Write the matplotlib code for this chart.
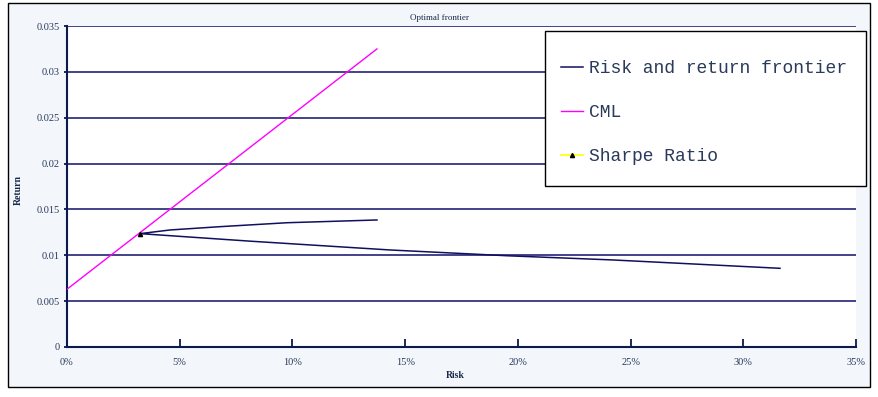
import matplotlib.pyplot as plt
from matplotlib.patches import Rectangle
from matplotlib.ticker import PercentFormatter, FuncFormatter

# Frontier (upper branch from the end back to the apex, then the lower branch)
frontier_risk = [0.1375, 0.0976, 0.0679, 0.0457, 0.0324, 0.0812, 0.1433, 0.1952, 0.2422, 0.3163]
frontier_ret = [0.01385, 0.01355, 0.01312, 0.01276, 0.01236, 0.01154, 0.01058, 0.00995, 0.00949, 0.00858]

# Capital market line
cml_risk = [0.0, 0.1375]
cml_ret = [0.0063, 0.0325]

# Tangency portfolio
sharpe_risk = [0.0324]
sharpe_ret = [0.01237]

navy = '#10106a'
text_col = '#2a3a5a'

fig = plt.figure(figsize=(8.79, 3.97), dpi=100)
bg = Rectangle((8 / 879, 10 / 397), 862 / 879, 384 / 397,
               transform=fig.transFigure, facecolor='#f3f6fb',
               edgecolor='black', linewidth=1, zorder=-10)
fig.patches.append(bg)

ax = fig.add_axes([67 / 879, 50 / 397, 789 / 879, 321 / 397])
ax.set_zorder(1)
ax.set_facecolor('white')

ax.plot(frontier_risk, frontier_ret, color='#10105e', linewidth=1.1,
        label='Risk and return frontier', zorder=3)
ax.plot(cml_risk, cml_ret, color='#ff00ff', linewidth=1.0, label='CML', zorder=3)
ax.plot(sharpe_risk, sharpe_ret, color='#ffff00', linewidth=1.2, marker='^',
        markersize=3, markerfacecolor='black', markeredgecolor='black',
        label='Sharpe Ratio', zorder=4)

ax.set_xlim(0, 0.35)
ax.set_ylim(0, 0.035)
ax.set_xticks([0, 0.05, 0.10, 0.15, 0.20, 0.25, 0.30, 0.35])
ax.set_yticks([0, 0.005, 0.01, 0.015, 0.02, 0.025, 0.03, 0.035])
ax.xaxis.set_major_formatter(PercentFormatter(1.0, decimals=0))
ax.yaxis.set_major_formatter(FuncFormatter(lambda v, p: '%g' % round(v, 4)))

ax.grid(axis='y', color=navy, linewidth=1.1)
ax.set_axisbelow(True)
for side in ['top', 'right']:
    ax.spines[side].set_visible(False)
for side in ['left', 'bottom']:
    ax.spines[side].set_color('#0a1a4a')
    ax.spines[side].set_linewidth(1.5)

ax.tick_params(axis='x', direction='in', length=6, width=1.3, color='#0a1a4a',
               labelsize=7.5, labelcolor=text_col, pad=8)
ax.tick_params(axis='y', direction='out', length=2, width=1.3, color='#0a1a4a',
               labelsize=7.5, labelcolor=text_col, pad=3)
for lbl in ax.get_xticklabels() + ax.get_yticklabels():
    lbl.set_family('Liberation Serif')

fig.text(18 / 879, 1 - 190 / 397, 'Return', rotation=90, ha='center', va='center',
         fontsize=7, fontweight='bold', family='Liberation Serif', color='#1a2a4a')
fig.text(455 / 879, 1 - 375 / 397, 'Risk', ha='center', va='center',
         fontsize=7, fontweight='bold', family='Liberation Serif', color='#1a2a4a')
fig.text(440 / 879, 1 - 18 / 397, 'Optimal frontier', ha='center', va='center',
         fontsize=6.5, family='Liberation Serif', color='#1a2a4a')

# legend frame drawn separately so the inner padding can be set freely
leg_box = Rectangle((545 / 879, 1 - 186 / 397), 321 / 879, 155 / 397,
                    transform=fig.transFigure, facecolor='white',
                    edgecolor='black', linewidth=1.0, zorder=5)
fig.patches.append(leg_box)
leg = fig.legend(loc='upper left', bbox_to_anchor=(561 / 879, 1 - 60 / 397),
                 prop={'family': 'Liberation Mono', 'size': 13},
                 labelcolor=text_col, frameon=False, borderpad=0,
                 labelspacing=1.5, handlelength=1.2, handletextpad=0.35,
                 borderaxespad=0)
leg.set_zorder(6)

plt.savefig('out.png', dpi=100)
